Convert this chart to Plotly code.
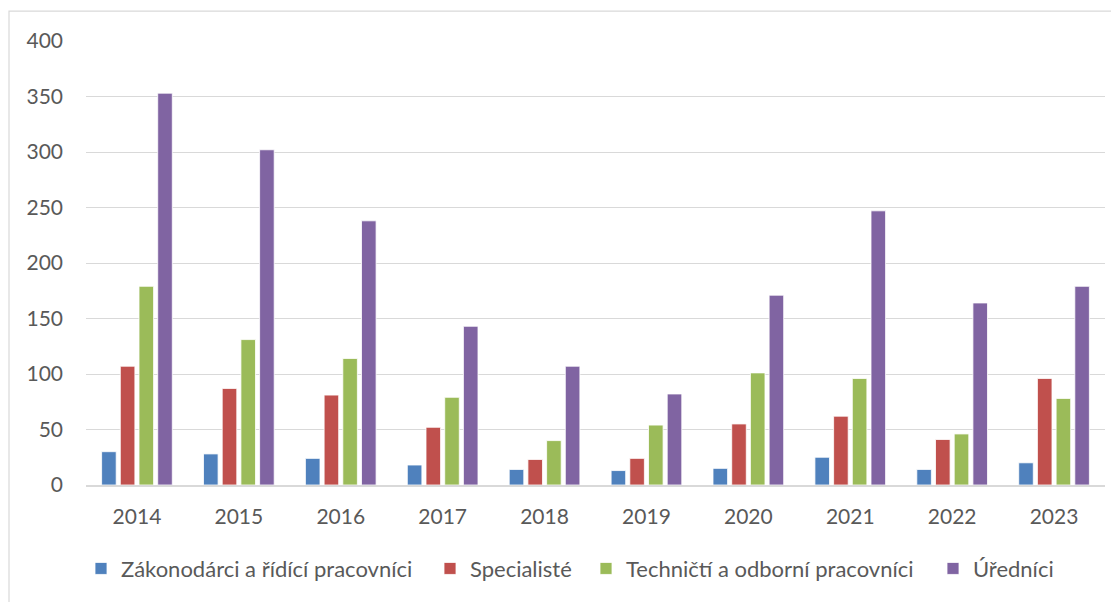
import plotly.graph_objects as go

years = ["2014", "2015", "2016", "2017", "2018", "2019", "2020", "2021", "2022", "2023"]
zakonodarci = [30, 28, 24, 18, 14, 13, 15, 25, 14, 20]
specialiste = [107, 87, 81, 52, 23, 24, 55, 62, 41, 96]
technicti = [179, 131, 114, 79, 40, 54, 101, 96, 46, 78]
urednici = [353, 302, 238, 143, 107, 82, 171, 247, 164, 179]

series = [
    ("Zákonodárci a řídící pracovníci", zakonodarci, "#4f81bd"),
    ("Specialisté", specialiste, "#c0504d"),
    ("Techničtí a odborní pracovníci", technicti, "#9bbb59"),
    ("Úředníci", urednici, "#8064a2"),
]

# page body has an 8px margin; compensate so the plot area lands at x 86..1105, y 41..487
W, H = 1111, 594
ML, MR, MT, MB = 78, 14, 33, 115
PW = W - ML - MR
PH = H - MT - MB

legend_names = ["legend", "legend2", "legend3", "legend4"]
legend_px = [81, 430, 586, 933]  # screen x of each legend box

font_family = "Lato, 'Open Sans', sans-serif"
tc = "#595959"

fig = go.Figure()
for (name, vals, col), lg in zip(series, legend_names):
    fig.add_trace(go.Bar(
        x=years, y=vals, name=name, legend=lg,
        marker=dict(color=col, line=dict(color="white", width=0.8)),
    ))

legend_y = (487 - 571) / PH
leg_layout = {}
for lg, px in zip(legend_names, legend_px):
    leg_layout[lg] = dict(orientation="h", x=(px - 86) / PW, xanchor="left",
                          y=legend_y, yanchor="middle", bgcolor="rgba(0,0,0,0)",
                          font=dict(size=22, color=tc, family=font_family))

fig.update_layout(
    width=W, height=H,
    margin=dict(l=ML, r=MR, t=MT, b=MB),
    paper_bgcolor="white", plot_bgcolor="white",
    barmode="group", bargap=0.266, bargroupgap=0.22,
    font=dict(family=font_family, size=21, color=tc),
    showlegend=True,
    xaxis=dict(showgrid=False, showline=True, linecolor="#d9d9d9", linewidth=1.5,
               ticks="", ticklabelstandoff=12, tickfont=dict(size=21, color=tc)),
    yaxis=dict(range=[0, 400], dtick=50, showgrid=True, gridcolor="#d9d9d9", gridwidth=1.3,
               zeroline=False, showline=False, ticks="", ticklabelstandoff=22,
               tickfont=dict(size=21, color=tc)),
    shapes=[dict(type="rect", xref="paper", yref="paper",
                 x0=(9 - 86) / PW, x1=(1130 - 86) / PW,
                 y0=(487 - 620) / PH, y1=(487 - 11) / PH,
                 line=dict(color="#d9d9d9", width=1.2), fillcolor="rgba(0,0,0,0)", layer="below")],
    **leg_layout,
)

fig.write_html("out.html")
